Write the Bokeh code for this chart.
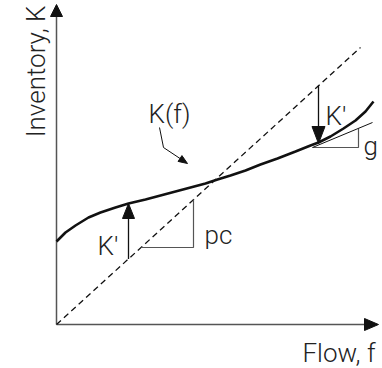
import numpy as np
from bokeh.plotting import figure
from bokeh.models import Range1d
from bokeh.core.properties import value
from bokeh.embed import file_html
from bokeh.resources import INLINE

# ---- data (flow f, inventory K), origin at axes corner ----
curve_f = [0, 9, 19, 32, 44, 59, 72, 89, 104, 119, 134, 149, 161, 174, 189, 204,
           221, 239, 254, 262, 274, 287, 299, 309, 317]
curve_K = [83, 92, 99, 107, 112, 117, 121, 125, 129, 133, 137, 141, 145, 149, 154, 160,
           166, 173, 179, 182, 188, 196, 204, 213, 223]

dash_f = [0, 304]
dash_K = [0, 277]

axis_x_f = [0, 322]
axis_y_K = [0, 320]

pc_tri_f = [85, 137, 137]
pc_tri_K = [77, 77, 125]

g_line_f = [256, 316]
g_line_K = [177, 202]
g_tri_f = [256, 302, 302]
g_tri_K = [177, 177, 196]

kp_low_f = 72
kp_low_K = [65.6, 121]
kp_up_f = 262
kp_up_K = [239, 181]

ptr_f = [103, 107, 131]
ptr_K = [197, 177, 161]

labels = ["Inventory, K", "K(f)", "K'", "pc", "K'", "g", "Flow, f"]
label_f = [-21, 92, 41, 148, 269, 307, 319]
label_K = [253, 211, 79, 90, 209, 179, -28]
label_angle = [np.pi / 2, 0, 0, 0, 0, 0, 0]
label_align = ["center", "left", "left", "left", "left", "left", "right"]

FONT = "'Roboto Light', Roboto, sans-serif"
INK = "#111111"
GRAY = "#555555"

W, H = 382, 368
p = figure(width=W, height=H, output_backend="svg", toolbar_location=None,
           x_range=Range1d(-56, 326), y_range=Range1d(-44, 324),
           x_axis_location=None, y_axis_location=None, min_border=0)
p.grid.visible = False
p.outline_line_color = None
p.background_fill_color = "white"
p.border_fill_color = "white"


def head(tip, frm, length, width):
    tx, ty = tip
    dx, dy = tx - frm[0], ty - frm[1]
    n = np.hypot(dx, dy)
    ux, uy = dx / n, dy / n
    bx, by = tx - ux * length, ty - uy * length
    px, py = -uy, ux
    return ([tx, bx + px * width / 2, bx - px * width / 2],
            [ty, by + py * width / 2, by - py * width / 2])


# axes
p.line([0, 0], [0, axis_y_K[1] - 10], line_color=GRAY, line_width=1.5)
p.line([0, axis_x_f[1] - 12], [0, 0], line_color=GRAY, line_width=1.5)
hx, hy = head((0, axis_y_K[1]), (0, 0), 12, 12)
p.patch(hx, hy, fill_color=INK, line_color=INK)
hx, hy = head((axis_x_f[1], 0), (0, 0), 14, 12)
p.patch(hx, hy, fill_color=INK, line_color=INK)

# dashed line
p.line(dash_f, dash_K, line_color=INK, line_width=1.3, line_dash="6 4")

# triangles
p.line(pc_tri_f, pc_tri_K, line_color=GRAY, line_width=1.2)
p.line(g_tri_f, g_tri_K, line_color=GRAY, line_width=1.2)
p.line(g_line_f, g_line_K, line_color=INK, line_width=1)

# curve
p.line(curve_f, curve_K, line_color=INK, line_width=2.6)

# K' arrows
p.line([kp_low_f, kp_low_f], [kp_low_K[0], kp_low_K[1] - 10], line_color=INK, line_width=1.3)
hx, hy = head((kp_low_f, kp_low_K[1]), (kp_low_f, kp_low_K[0]), 15, 12)
p.patch(hx, hy, fill_color=INK, line_color=INK)
p.line([kp_up_f, kp_up_f], [kp_up_K[0], kp_up_K[1] + 10], line_color=INK, line_width=1.3)
hx, hy = head((kp_up_f, kp_up_K[1]), (kp_up_f, kp_up_K[0]), 17, 13)
p.patch(hx, hy, fill_color=INK, line_color=INK)

# pointer
p.line(ptr_f[:2] + [ptr_f[2] - 4], ptr_K[:2] + [ptr_K[2] + 2.7], line_color=INK, line_width=1)
hx, hy = head((ptr_f[2], ptr_K[2]), (ptr_f[1], ptr_K[1]), 9, 7)
p.patch(hx, hy, fill_color=INK, line_color=INK)

# labels
for t, x, y, a, al in zip(labels, label_f, label_K, label_angle, label_align):
    p.text([x], [y], text=[t], angle=a, text_align=al, text_baseline="alphabetic",
           text_font=value(FONT), text_font_size="26px", text_color="#222222")

open("out.html", "w").write(file_html(p, INLINE))
